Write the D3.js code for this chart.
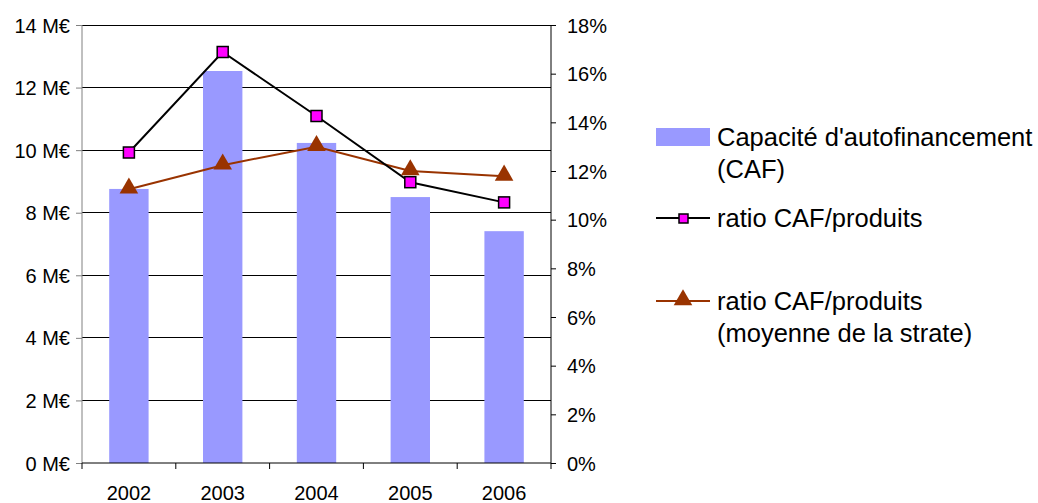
<!DOCTYPE html>
<html>
<head>
<meta charset="utf-8">
<script src="https://cdn.jsdelivr.net/npm/d3@7"></script>
<style>
  body { margin: 0; background: #fff; }
  text { font-family: "Liberation Sans", Arial, sans-serif; fill: #000; }
</style>
</head>
<body>
<div id="container"></div>
<script>
// ==================== data ==================== //

const years = ["2002", "2003", "2004", "2005", "2006"];
const caf = [8.76, 12.53, 10.23, 8.5, 7.41];              // M€
const ratio = [12.76, 16.89, 14.26, 11.54, 10.71];        // %
const ratioStrate = [11.25, 12.24, 13.0, 12.0, 11.78];   // %
const leftTicks = [0, 2, 4, 6, 8, 10, 12, 14];
const rightTicks = [0, 2, 4, 6, 8, 10, 12, 14, 16, 18];

// ==================== chart ==================== //

const width = 1038, height = 503;
const plot = { left: 82, right: 551, top: 25, bottom: 463 };

const svg = d3.select("#container")
    .append("svg")
    .attr("width", width)
    .attr("height", height);

const x = d3.scaleBand().domain(years).range([plot.left, plot.right]).padding(0);
const yLeft = d3.scaleLinear().domain([0, 14]).range([plot.bottom, plot.top]);
const yRight = d3.scaleLinear().domain([0, 18]).range([plot.bottom, plot.top]);

// gridlines
svg.append("g")
    .selectAll("line")
    .data(leftTicks.filter(d => d > 0))
    .join("line")
    .attr("x1", plot.left).attr("x2", plot.right)
    .attr("y1", d => yLeft(d)).attr("y2", d => yLeft(d))
    .attr("stroke", "#000").attr("stroke-width", 1)
    .attr("shape-rendering", "crispEdges");

// bars
const barW = x.bandwidth() * 0.42;
svg.append("g")
    .selectAll("rect")
    .data(caf)
    .join("rect")
    .attr("x", (d, i) => x(years[i]) + x.bandwidth() / 2 - barW / 2)
    .attr("y", d => yLeft(d))
    .attr("width", barW)
    .attr("height", d => yLeft(0) - yLeft(d))
    .attr("fill", "#9999FF");

// left axis
const leftAxis = svg.append("g")
    .attr("transform", `translate(${plot.left},0)`)
    .call(d3.axisLeft(yLeft).tickValues(leftTicks).tickSize(6).tickPadding(6)
        .tickFormat(d => d + " M€"));
leftAxis.select(".domain").attr("stroke", "#808080").attr("d", `M0,${plot.top}V${plot.bottom}`);
leftAxis.selectAll(".tick line").attr("stroke", "#808080");
leftAxis.selectAll("text").style("font-size", "20px").attr("dy", "0.35em");

// right axis
const rightAxis = svg.append("g")
    .attr("transform", `translate(${plot.right},0)`)
    .call(d3.axisRight(yRight).tickValues(rightTicks).tickSize(5).tickPadding(11)
        .tickFormat(d => d + "%"));
rightAxis.select(".domain").attr("d", `M0,${plot.top}V${plot.bottom}`);
rightAxis.selectAll("text").style("font-size", "20px").attr("dy", "0.35em");

// bottom axis
const bottomAxis = svg.append("g")
    .attr("transform", `translate(0,${plot.bottom})`)
    .call(d3.axisBottom(x).tickSize(0).tickPadding(23));
bottomAxis.select(".domain").attr("d", `M${plot.left},0H${plot.right}`);
bottomAxis.selectAll("text").style("font-size", "20px");
bottomAxis.selectAll(".bound")
    .data(d3.range(years.length + 1))
    .join("line")
    .attr("class", "bound")
    .attr("x1", i => plot.left + i * x.step()).attr("x2", i => plot.left + i * x.step())
    .attr("y1", 0).attr("y2", 6)
    .attr("stroke", "#000");

// lines
const lineGen = d3.line()
    .x((d, i) => x(years[i]) + x.bandwidth() / 2)
    .y(d => yRight(d));

svg.append("path")
    .datum(ratioStrate)
    .attr("d", lineGen)
    .attr("fill", "none")
    .attr("stroke", "#993300")
    .attr("stroke-width", 2);

svg.append("path")
    .datum(ratio)
    .attr("d", lineGen)
    .attr("fill", "none")
    .attr("stroke", "#000")
    .attr("stroke-width", 2);

const tri = d3.symbol().type(d3.symbolTriangle).size(150);
svg.append("g")
    .selectAll("path")
    .data(ratioStrate)
    .join("path")
    .attr("d", tri)
    .attr("transform", (d, i) => `translate(${x(years[i]) + x.bandwidth() / 2},${yRight(d) - 1})`)
    .attr("fill", "#993300");

svg.append("g")
    .selectAll("rect")
    .data(ratio)
    .join("rect")
    .attr("x", (d, i) => x(years[i]) + x.bandwidth() / 2 - 5.5)
    .attr("y", d => yRight(d) - 5.5)
    .attr("width", 11).attr("height", 11)
    .attr("fill", "#FF00FF")
    .attr("stroke", "#000")
    .attr("stroke-width", 1.5);

// legend
const legend = svg.append("g").style("font-size", "25.5px");

legend.append("rect")
    .attr("x", 656).attr("y", 128).attr("width", 54).attr("height", 18)
    .attr("fill", "#9999FF");
legend.append("text").attr("x", 717).attr("y", 146).text("Capacité d'autofinancement");
legend.append("text").attr("x", 717).attr("y", 178).text("(CAF)");

legend.append("line")
    .attr("x1", 656).attr("x2", 710).attr("y1", 218).attr("y2", 218)
    .attr("stroke", "#000").attr("stroke-width", 2);
legend.append("rect")
    .attr("x", 679).attr("y", 214).attr("width", 9).attr("height", 9)
    .attr("fill", "#FF00FF").attr("stroke", "#000").attr("stroke-width", 1.5);
legend.append("text").attr("x", 717).attr("y", 227).text("ratio CAF/produits");

legend.append("line")
    .attr("x1", 656).attr("x2", 710).attr("y1", 301).attr("y2", 301)
    .attr("stroke", "#993300").attr("stroke-width", 2);
legend.append("path")
    .attr("d", tri)
    .attr("transform", "translate(683,300)")
    .attr("fill", "#993300");
legend.append("text").attr("x", 717).attr("y", 310).text("ratio CAF/produits");
legend.append("text").attr("x", 717).attr("y", 342).text("(moyenne de la strate)");
</script>
</body>
</html>
